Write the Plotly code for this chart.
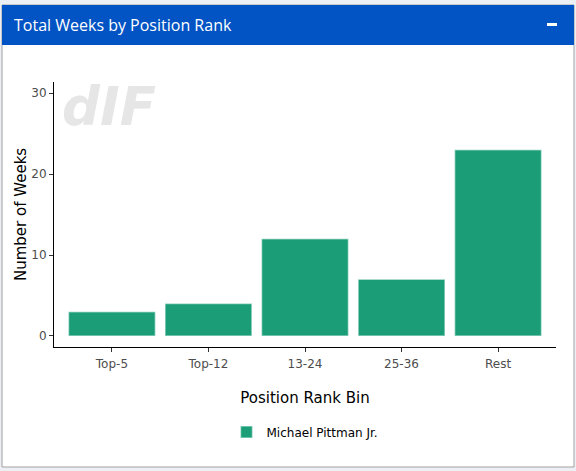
import plotly.graph_objects as go

categories = ["Top-5", "Top-12", "13-24", "25-36", "Rest"]
weeks = [3, 4, 12, 7, 23]
series_name = "Michael Pittman Jr."
y_ticks = [0, 10, 20, 30]

W, H = 576, 471
ML, MR, MT, MB = 54, 20, 82, 124
PW, PH = W - ML - MR, H - MT - MB

def px(x):
    return (x - ML) / PW

def py(y):
    return (H - MB - y) / PH

fig = go.Figure()
fig.add_trace(go.Bar(
    x=categories, y=weeks, name=series_name,
    marker=dict(color="#1b9e77", line=dict(color="rgba(255,255,255,0.5)", width=1.5)),
    width=0.9, showlegend=True,
))

shapes = [
    dict(type="rect", xref="paper", yref="paper", x0=px(2), x1=px(574), y0=py(467), y1=py(5),
         fillcolor="white", line=dict(color="#a0a0a0", width=1), layer="below"),
    dict(type="rect", xref="paper", yref="paper", x0=px(2), x1=px(574), y0=py(45), y1=py(5),
         fillcolor="#0253c3", line=dict(width=0), layer="below"),
    dict(type="rect", xref="paper", yref="paper", x0=px(547), x1=px(557), y0=py(26), y1=py(23),
         fillcolor="white", line=dict(width=0), layer="above"),
]

annotations = [
    dict(text="Total Weeks by Position Rank", xref="paper", yref="paper", x=px(12), y=py(25),
         xanchor="left", yanchor="middle", showarrow=False,
         font=dict(family="Open Sans", size=16, color="white")),
    dict(text="<b><i>dIF</i></b>", xref="paper", yref="paper", x=px(60), y=py(106),
         xanchor="left", yanchor="middle", showarrow=False,
         font=dict(family="DejaVu Sans", size=53, color="#e6e6e6")),
    dict(text="Number of Weeks", xref="paper", yref="paper", x=px(21), y=py(215),
         xanchor="center", yanchor="middle", textangle=-90, showarrow=False,
         font=dict(family="DejaVu Sans", size=15, color="black")),
]

fig.update_layout(
    width=W, height=H, autosize=False,
    margin=dict(l=ML, r=MR, t=MT, b=MB),
    paper_bgcolor="#ecf0f5", plot_bgcolor="rgba(0,0,0,0)",
    shapes=shapes, annotations=annotations,
    font=dict(family="DejaVu Sans", color="#000000"),
    xaxis=dict(
        range=[-0.6, 4.6], showgrid=False, zeroline=False,
        showline=True, linecolor="black", linewidth=1,
        ticks="outside", ticklen=4, tickcolor="#333333",
        ticklabelstandoff=2,
        tickfont=dict(family="DejaVu Sans", size=12, color="#4d4d4d"),
        title=dict(text="Position Rank Bin", font=dict(family="DejaVu Sans", size=15, color="black"),
                   standoff=22),
    ),
    yaxis=dict(
        range=[-1.36, 31.36], tickvals=y_ticks, showgrid=False, zeroline=False,
        showline=True, linecolor="black", linewidth=1,
        ticks="outside", ticklen=4, tickcolor="#333333",
        tickfont=dict(family="DejaVu Sans", size=12, color="#4d4d4d"),
    ),
    legend=dict(orientation="h", x=0.5, xanchor="center", y=py(432), yanchor="middle",
                font=dict(family="DejaVu Sans", size=12, color="black"),
                bgcolor="rgba(0,0,0,0)"),
)

fig.write_html("out.html", config={"displayModeBar": False},
               post_script="document.body.style.margin='0';document.body.style.padding='0';")
